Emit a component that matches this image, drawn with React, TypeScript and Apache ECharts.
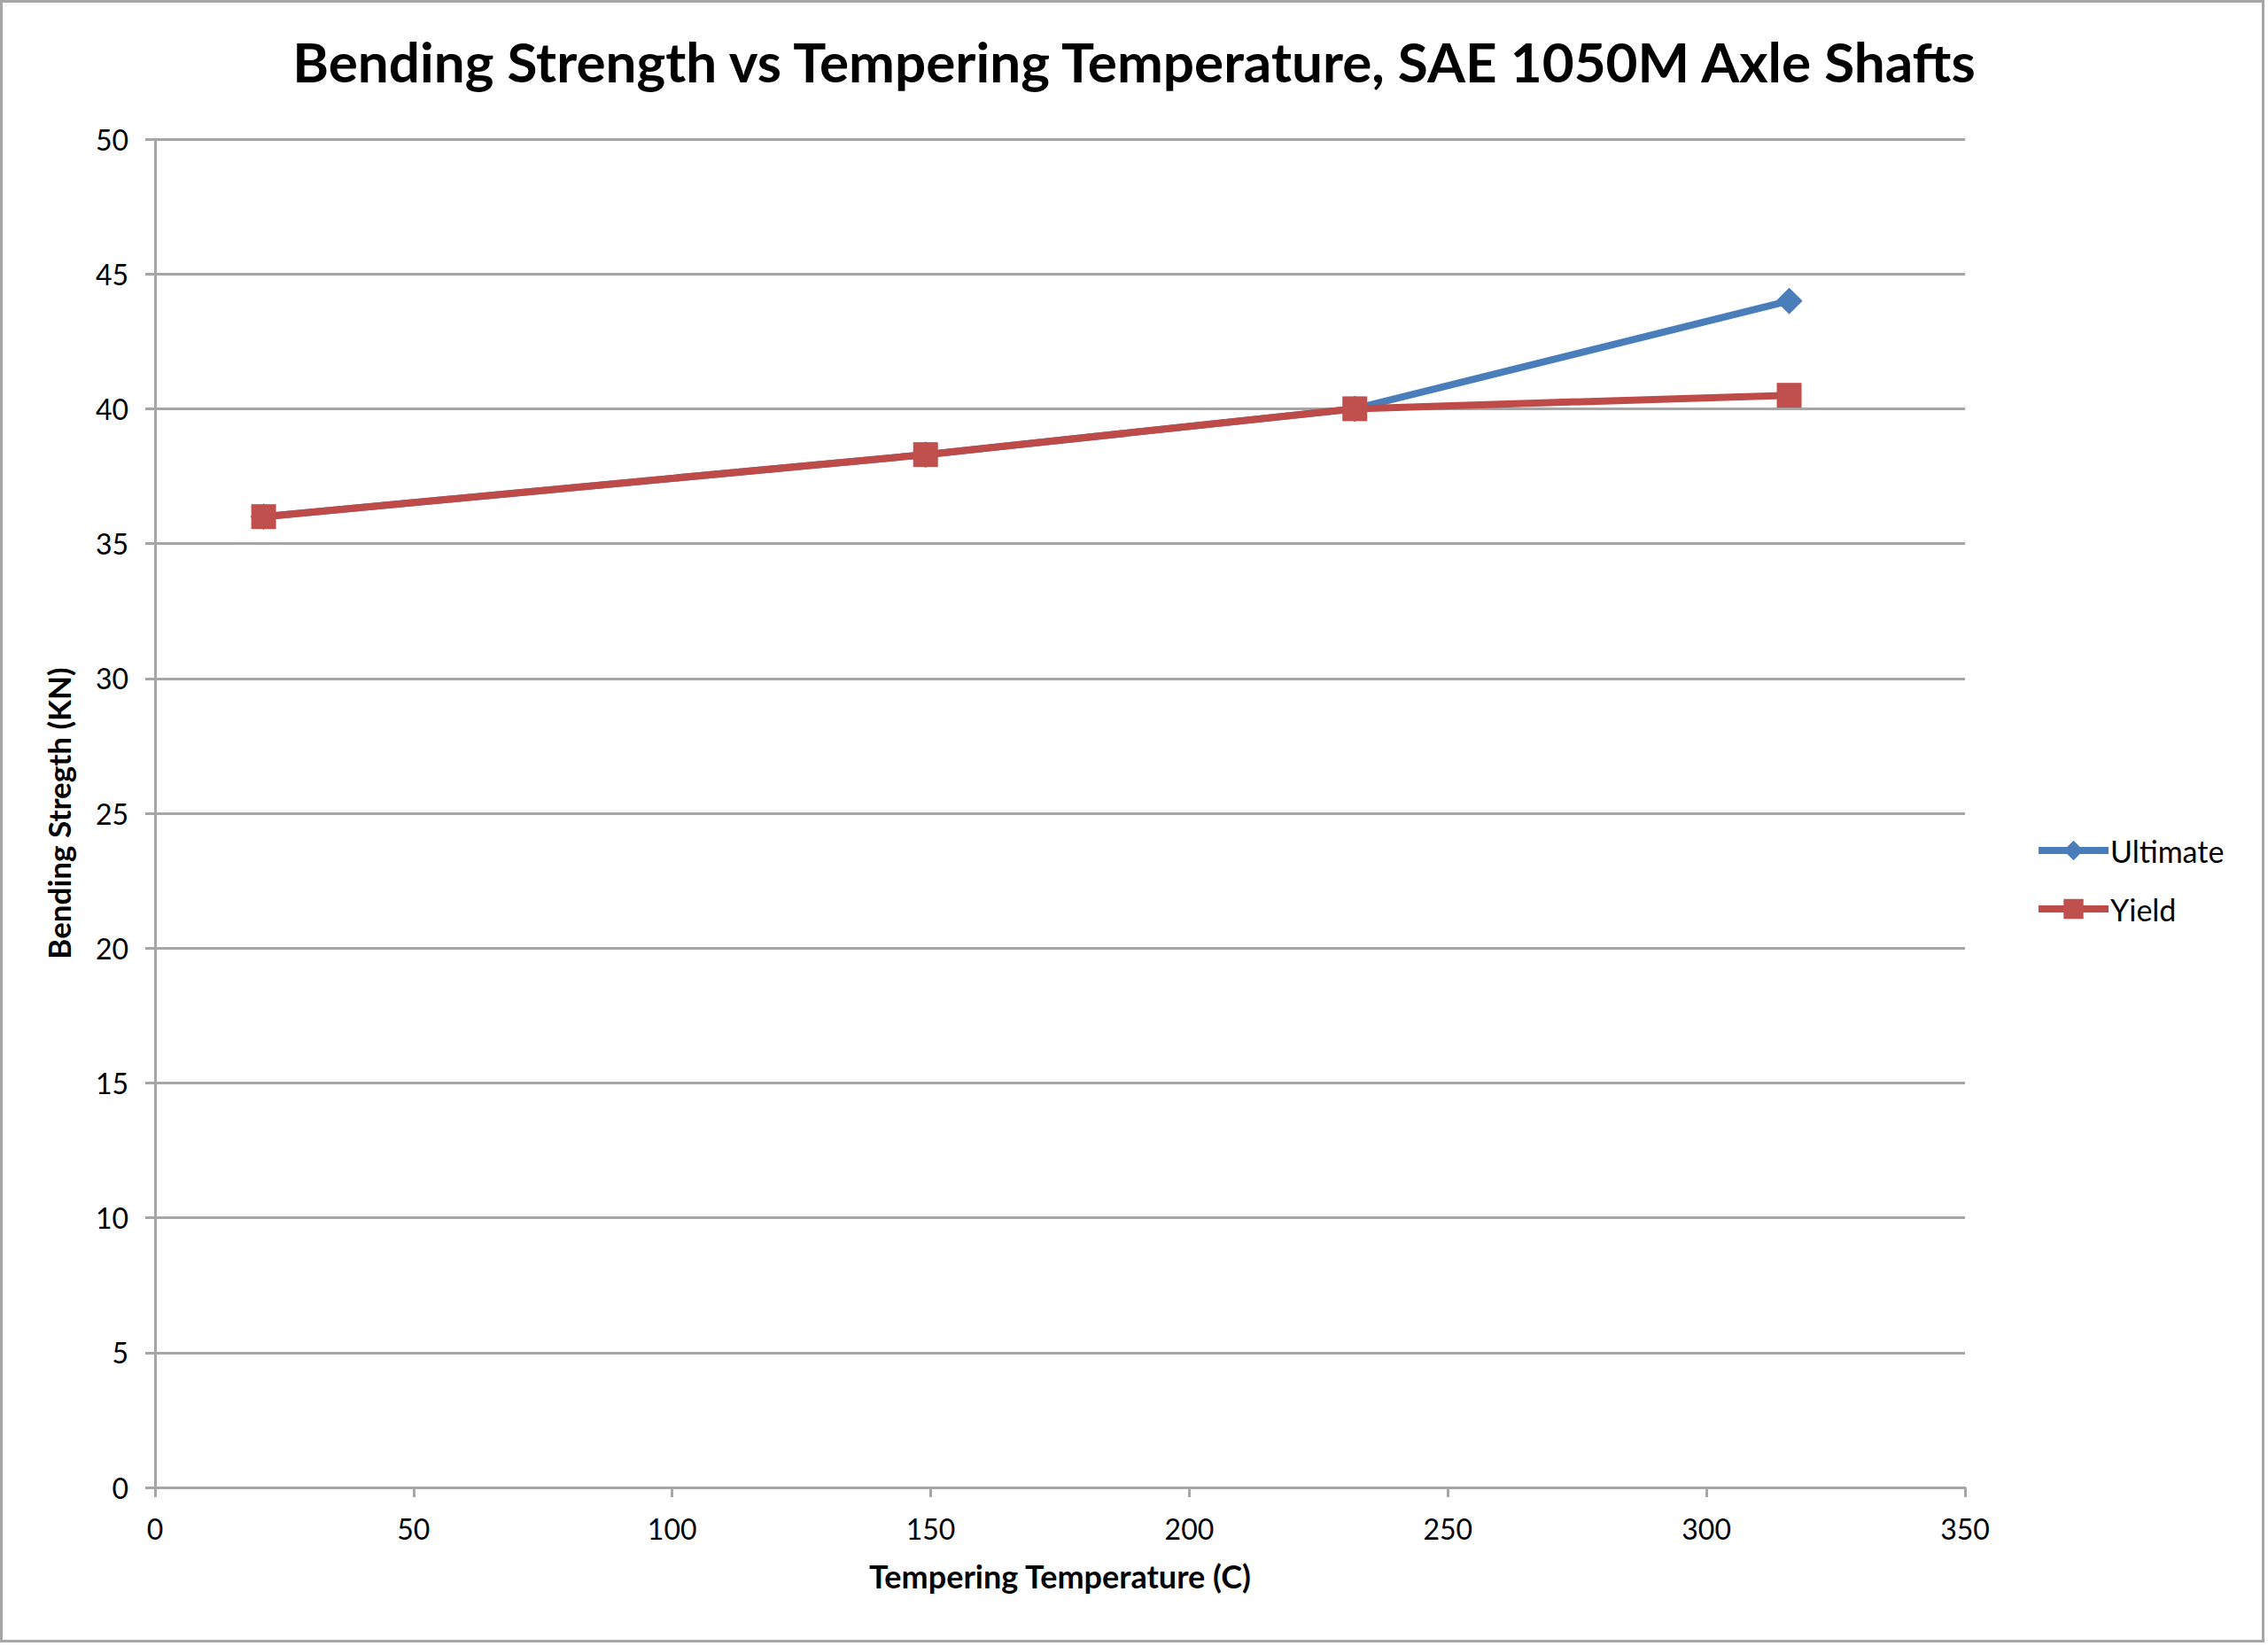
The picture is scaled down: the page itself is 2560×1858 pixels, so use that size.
import { useEffect, useRef } from 'react';
import * as echarts from 'echarts';

const temperatures = [21, 149, 232, 316];
const ultimate = [36, 38.3, 40, 44];
const yieldStrength = [36, 38.3, 40, 40.5];
const seriesNames = ['Ultimate', 'Yield'];

const FONT = 'Lato, "Open Sans", sans-serif';
const GRID_GRAY = '#a6a6a6';

export default function App() {
  const chartRef = useRef<HTMLDivElement>(null);

  useEffect(() => {
    document.body.style.margin = '0';
    if (!chartRef.current) return;
    const chart = echarts.init(chartRef.current, undefined, { renderer: 'svg' });

    const toPairs = (values: number[]) => temperatures.map((t, i) => [t, values[i]]);

    chart.setOption({
      animation: false,
      backgroundColor: '#ffffff',
      textStyle: { fontFamily: FONT },
      title: {
        text: 'Bending Strength vs Tempering Temperature, SAE 1050M Axle Shafts',
        left: 'center',
        top: 33,
        textStyle: { fontFamily: FONT, fontSize: 62, fontWeight: 'bold', color: '#000' },
      },
      legend: {
        orient: 'vertical',
        left: 2292,
        top: 938,
        itemWidth: 79,
        itemHeight: 28,
        itemGap: 32,
        lineStyle: { width: 8 },
        textStyle: { fontFamily: FONT, fontSize: 34, color: '#000', padding: [0, 0, 0, -3] },
        data: seriesNames,
      },
      grid: { left: 175, right: 342, top: 157, bottom: 179, containLabel: false },
      xAxis: {
        type: 'value',
        min: 0,
        max: 350,
        interval: 50,
        name: 'Tempering Temperature (C)',
        nameLocation: 'middle',
        nameGap: 82,
        nameTextStyle: { fontFamily: FONT, fontSize: 36, fontWeight: 'bold', color: '#000' },
        axisLine: { show: true, lineStyle: { color: GRID_GRAY, width: 3 } },
        axisTick: { show: true, length: 11, lineStyle: { color: GRID_GRAY, width: 3 } },
        axisLabel: { fontFamily: FONT, fontSize: 32, color: '#000', margin: 30 },
        splitLine: { show: false },
      },
      yAxis: {
        type: 'value',
        min: 0,
        max: 50,
        interval: 5,
        name: 'Bending Stregth (KN)',
        nameLocation: 'middle',
        nameRotate: 90,
        nameGap: 92,
        nameTextStyle: { fontFamily: FONT, fontSize: 35, fontWeight: 'bold', color: '#000' },
        axisLine: { show: true, lineStyle: { color: GRID_GRAY, width: 3 } },
        axisTick: { show: true, length: 11, lineStyle: { color: GRID_GRAY, width: 3 } },
        axisLabel: { fontFamily: FONT, fontSize: 32, color: '#000', margin: 30 },
        splitLine: { show: true, lineStyle: { color: GRID_GRAY, width: 3 } },
      },
      series: [
        {
          name: seriesNames[0],
          type: 'line',
          data: toPairs(ultimate),
          symbol: 'diamond',
          symbolSize: 30,
          lineStyle: { color: '#4a7ebb', width: 8 },
          itemStyle: { color: '#4a7ebb' },
          z: 2,
        },
        {
          name: seriesNames[1],
          type: 'line',
          data: toPairs(yieldStrength),
          symbol: 'rect',
          symbolSize: 28,
          lineStyle: { color: '#be4b48', width: 8 },
          itemStyle: { color: '#c0504d' },
          z: 3,
        },
      ],
      graphic: [
        {
          type: 'rect',
          shape: { x: 1.5, y: 1.5, width: 2553, height: 1851 },
          style: { fill: 'none', stroke: GRID_GRAY, lineWidth: 3 },
          silent: true,
        },
      ],
    });

    return () => chart.dispose();
  }, []);

  return <div ref={chartRef} style={{ width: 2560, height: 1858 }} />;
}
